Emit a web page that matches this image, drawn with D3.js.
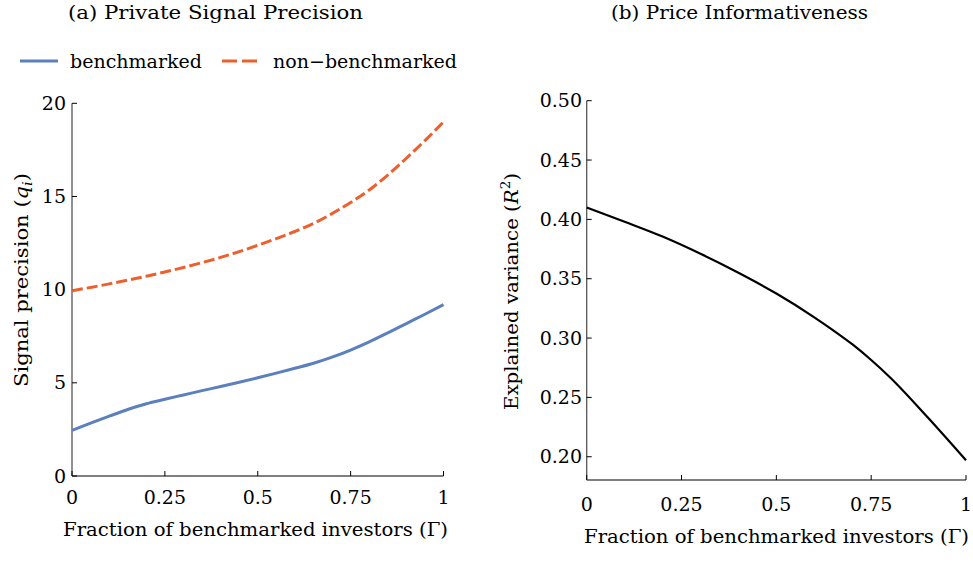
<!DOCTYPE html>
<html><head><meta charset="utf-8">
<script src="https://cdn.jsdelivr.net/npm/d3@7"></script>
<style>
body{margin:0;background:#fff;}
svg text{font-family:"DejaVu Serif","Liberation Serif",serif;fill:#000;}
</style></head>
<body>
<svg id="c" width="973" height="567"></svg>
<script>
// ---- data ----
const gammaA = [0,0.05,0.1,0.15,0.2,0.25,0.3,0.35,0.4,0.45,0.5,0.55,0.6,0.65,0.7,0.75,0.8,0.85,0.9,0.95,1];
const benchmarked = [2.45,2.84,3.21,3.57,3.88,4.12,4.35,4.58,4.8,5.03,5.27,5.52,5.78,6.05,6.38,6.76,7.2,7.68,8.18,8.68,9.2];
const nonBenchmarked = [9.94,10.12,10.31,10.51,10.72,10.95,11.19,11.45,11.73,12.04,12.38,12.74,13.12,13.55,14.08,14.68,15.35,16.15,17.05,18.0,19.0];
const gammaB = [0,0.1,0.2,0.3,0.4,0.5,0.6,0.65,0.7,0.75,0.8,0.9,1];
const r2 = [0.41,0.398,0.3855,0.371,0.355,0.3375,0.3175,0.3065,0.2948,0.2815,0.2668,0.2328,0.197];
const xTicks = [0,0.25,0.5,0.75,1];
const xTickLabels = ["0","0.25","0.5","0.75","1"];
const yTicksA = [0,5,10,15,20];
const yTicksB = [0.20,0.25,0.30,0.35,0.40,0.45,0.50];
const legendLabels = ["benchmarked","non\u2212benchmarked"];
const titles = ["(a) Private Signal Precision","(b) Price Informativeness"];
const xLabel = "Fraction of benchmarked investors (\u0393)";

const svg = d3.select("#c");
const FS = 19;
const blue = "#5b80bd", red = "#ee5f2e";

function fitText(sel, w){ sel.attr("textLength", w).attr("lengthAdjust","spacingAndGlyphs"); return sel; }

function axes(g, x, y, xt, yt, yfmt, tickLabelY, yLabelEnd){
  const [x0,x1] = x.range(), [yb] = y.range();
  g.append("line").attr("x1",x0).attr("x2",x1).attr("y1",yb).attr("y2",yb).attr("stroke","#555").attr("stroke-width",1.3);
  g.append("line").attr("x1",x0).attr("x2",x0).attr("y1",yb).attr("y2",y(yt[yt.length-1])).attr("stroke","#555").attr("stroke-width",1.3);
  xt.forEach((t,i)=>{
    g.append("line").attr("x1",x(t)).attr("x2",x(t)).attr("y1",yb).attr("y2",yb-5).attr("stroke","#000").attr("stroke-width",1);
    g.append("text").attr("x",x(t)).attr("y",tickLabelY).attr("text-anchor","middle").style("font-size",FS+"px").text(xTickLabels[i]);
  });
  yt.forEach(t=>{
    g.append("line").attr("x1",x0).attr("x2",x0+5).attr("y1",y(t)).attr("y2",y(t)).attr("stroke","#000").attr("stroke-width",1);
    g.append("text").attr("x",yLabelEnd).attr("y",y(t)).attr("dy","0.35em").attr("text-anchor","end").style("font-size",FS+"px").text(yfmt(t));
  });
}

// ---- panel A ----
const xA = d3.scaleLinear().domain([0,1]).range([72,443.5]);
const yA = d3.scaleLinear().domain([0,20]).range([476,103.3]);
const gA = svg.append("g");
axes(gA, xA, yA, xTicks, yTicksA, d=>d3.format("d")(d), 504, 66);
const lineA = (ys)=>d3.line().x((d,i)=>xA(gammaA[i])).y(d=>yA(d)).curve(d3.curveMonotoneX)(ys);
gA.append("path").attr("d",lineA(benchmarked)).attr("fill","none").attr("stroke",blue).attr("stroke-width",3);
gA.append("path").attr("d",lineA(nonBenchmarked)).attr("fill","none").attr("stroke",red).attr("stroke-width",3).attr("stroke-dasharray","11,4");

fitText(gA.append("text").attr("x",68).attr("y",19).style("font-size",FS+"px").text(titles[0]),295);
fitText(gA.append("text").attr("x",63).attr("y",536).style("font-size",FS+"px").text(xLabel),385);
const ylA = fitText(gA.append("text").attr("transform","translate(28,387) rotate(-90)").style("font-size",FS+"px"),214);
ylA.append("tspan").text("Signal precision (");
ylA.append("tspan").style("font-style","italic").text("q");
ylA.append("tspan").attr("dy","4").style("font-size","13px").style("font-style","italic").text("i");
ylA.append("tspan").attr("dy","-4").text(")");

// legend
const lg = svg.append("g");
lg.append("line").attr("x1",20).attr("x2",58).attr("y1",61).attr("y2",61).attr("stroke",blue).attr("stroke-width",3);
fitText(lg.append("text").attr("x",70).attr("y",68).style("font-size",FS+"px").text(legendLabels[0]),132);
lg.append("line").attr("x1",222).attr("x2",258).attr("y1",61).attr("y2",61).attr("stroke",red).attr("stroke-width",3).attr("stroke-dasharray","15,5");
fitText(lg.append("text").attr("x",273).attr("y",68).style("font-size",FS+"px").text(legendLabels[1]),184);

// ---- panel B ----
const xB = d3.scaleLinear().domain([0,1]).range([586.7,966]);
const yB = d3.scaleLinear().domain([0.1804,0.50]).range([480,100.7]);
const gB = svg.append("g");
axes(gB, xB, yB, xTicks, yTicksB, d=>d3.format(".2f")(d), 511, 582);
gB.append("path").attr("d",d3.line().x((d,i)=>xB(gammaB[i])).y(d=>yB(d)).curve(d3.curveMonotoneX)(r2))
  .attr("fill","none").attr("stroke","#000").attr("stroke-width",2.2);
fitText(gB.append("text").attr("x",611).attr("y",19).style("font-size",FS+"px").text(titles[1]),257);
fitText(gB.append("text").attr("x",584).attr("y",543).style("font-size",FS+"px").text(xLabel),385);
const ylB = fitText(gB.append("text").attr("transform","translate(518,410) rotate(-90)").style("font-size",FS+"px"),237);
ylB.append("tspan").text("Explained variance (");
ylB.append("tspan").style("font-style","italic").text("R");
ylB.append("tspan").attr("dy","-8").style("font-size","13px").text("2");
ylB.append("tspan").attr("dy","8").text(")");
</script>
</body></html>
